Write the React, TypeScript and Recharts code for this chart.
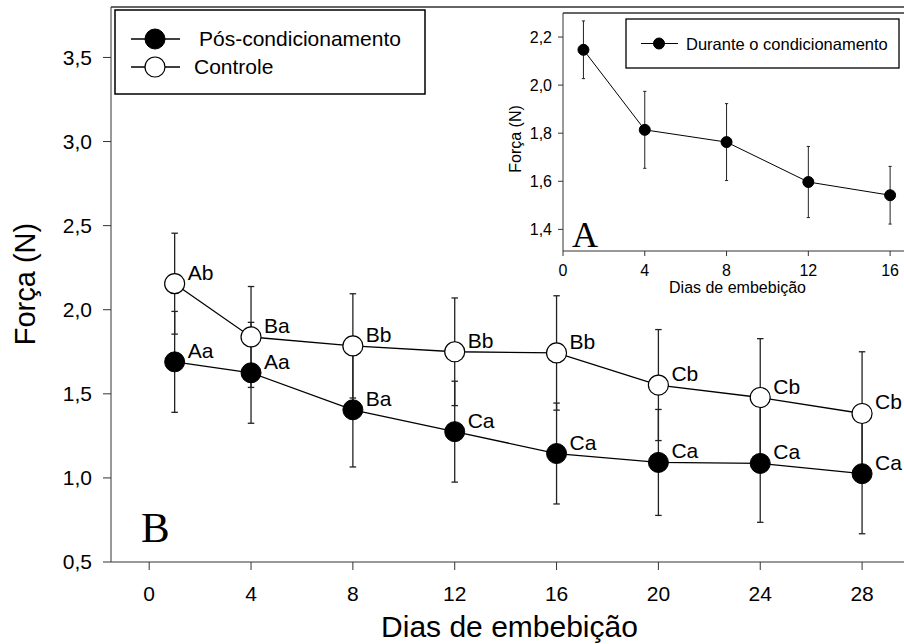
import { ErrorBar, LabelList, Line, LineChart, ReferenceLine, XAxis, YAxis } from "recharts";

const FONT = "'Liberation Sans', Arial, Helvetica, sans-serif";
const SERIF = "'Liberation Serif', 'Times New Roman', serif";
const AXIS = "#333";
const BAR = "#222";

// panel B
const DAYS = [1, 4, 8, 12, 16, 20, 24, 28];
const POS = [1.69, 1.625, 1.405, 1.275, 1.145, 1.092, 1.086, 1.025];
const POS_ERR = [0.3, 0.3, 0.34, 0.3, 0.3, 0.315, 0.35, 0.357];
const POS_LABELS = ["Aa", "Aa", "Ba", "Ca", "Ca", "Ca", "Ca", "Ca"];
const CTRL = [2.155, 1.838, 1.785, 1.75, 1.743, 1.552, 1.478, 1.383];
const CTRL_ERR = [0.3, 0.3, 0.31, 0.32, 0.34, 0.33, 0.35, 0.367];
const CTRL_LABELS = ["Ab", "Ba", "Bb", "Bb", "Bb", "Cb", "Cb", "Cb"];
const X_TICKS = [0, 4, 8, 12, 16, 20, 24, 28];
const Y_TICKS = [0.5, 1.0, 1.5, 2.0, 2.5, 3.0, 3.5];

// panel A (inset)
const INSET_DAYS = [1, 4, 8, 12, 16];
const INSET_VALS = [2.147, 1.814, 1.763, 1.597, 1.542];
const INSET_ERR = [0.12, 0.16, 0.16, 0.148, 0.12];
const INSET_X_TICKS = [0, 4, 8, 12, 16];
const INSET_Y_TICKS = [1.4, 1.6, 1.8, 2.0, 2.2];

const SERIES_NAMES = ["Pós-condicionamento", "Controle"];
const INSET_NAME = "Durante o condicionamento";

const mainData = DAYS.map((d, i) => ({
  day: d,
  pos: POS[i],
  posErr: POS_ERR[i],
  posLabel: POS_LABELS[i],
  ctrl: CTRL[i],
  ctrlErr: CTRL_ERR[i],
  ctrlLabel: CTRL_LABELS[i],
}));

const insetData = INSET_DAYS.map((d, i) => ({ day: d, val: INSET_VALS[i], err: INSET_ERR[i] }));

const comma = (v: number) => v.toFixed(1).replace(".", ",");

const letter = (props: any) => {
  const { x, y, value } = props;
  return (
    <text x={x + 13} y={y - 4} fontSize={21} fontFamily={FONT} fill="#000">
      {value}
    </text>
  );
};

export default function App() {
  return (
    <div style={{ position: "fixed", left: 0, top: 0, width: 904, height: 644, overflow: "hidden", background: "#fff" }}>
      <div style={{ position: "absolute", left: 0, top: 0 }}>
        <LineChart width={913} height={644} data={mainData} margin={{ top: 7, right: 0, bottom: 0, left: 0 }}>
          <XAxis
            dataKey="day"
            type="number"
            domain={[-1.5, 30]}
            ticks={X_TICKS}
            height={82}
            tickSize={8}
            tickMargin={16}
            stroke={AXIS}
            tick={{ fill: "#000", fontSize: 21, fontFamily: FONT }}
            allowDataOverflow
          />
          <YAxis
            type="number"
            domain={[0.5, 3.8]}
            ticks={Y_TICKS}
            width={111}
            tickSize={8}
            tickMargin={11}
            stroke={AXIS}
            tickFormatter={comma}
            tick={{ fill: "#000", fontSize: 21, fontFamily: FONT }}
            allowDataOverflow
          />
          <ReferenceLine y={3.8} stroke={AXIS} strokeWidth={1.5} />
          <Line
            dataKey="pos"
            stroke="#000"
            strokeWidth={1.3}
            dot={{ r: 10, fill: "#000", stroke: "#000", strokeWidth: 1 }}
            activeDot={false}
            isAnimationActive={false}
          >
            <ErrorBar dataKey="posErr" direction="y" width={3.25} stroke={BAR} strokeWidth={1.3} />
            <LabelList dataKey="posLabel" content={letter} />
          </Line>
          <Line
            dataKey="ctrl"
            stroke="#000"
            strokeWidth={1.3}
            dot={{ r: 10, fill: "#fff", stroke: "#000", strokeWidth: 1.2 }}
            activeDot={false}
            isAnimationActive={false}
          >
            <ErrorBar dataKey="ctrlErr" direction="y" width={3.25} stroke={BAR} strokeWidth={1.3} />
            <LabelList dataKey="ctrlLabel" content={letter} />
          </Line>
        </LineChart>
      </div>

      <div style={{ position: "absolute", left: 440, top: 0 }}>
        <LineChart width={491} height={300} data={insetData} margin={{ top: 13, right: 0, bottom: 0, left: 0 }}>
          <XAxis
            dataKey="day"
            type="number"
            domain={[0, 18]}
            ticks={INSET_X_TICKS}
            height={49}
            tickSize={5}
            tickMargin={9}
            stroke={AXIS}
            tick={{ fill: "#000", fontSize: 16, fontFamily: FONT }}
            allowDataOverflow
          />
          <YAxis
            type="number"
            domain={[1.31, 2.3]}
            ticks={INSET_Y_TICKS}
            width={123}
            tickSize={5}
            tickMargin={6}
            stroke={AXIS}
            tickFormatter={comma}
            tick={{ fill: "#000", fontSize: 16, fontFamily: FONT }}
            allowDataOverflow
          />
          <ReferenceLine y={2.3} stroke={AXIS} strokeWidth={1.3} />
          <Line
            dataKey="val"
            stroke="#000"
            strokeWidth={1}
            dot={{ r: 5.5, fill: "#000", stroke: "#000", strokeWidth: 1 }}
            activeDot={false}
            isAnimationActive={false}
          >
            <ErrorBar dataKey="err" direction="y" width={1.6} stroke={BAR} strokeWidth={1} />
          </Line>
        </LineChart>
      </div>

      <svg
        width={904}
        height={644}
        style={{ position: "absolute", left: 0, top: 0, pointerEvents: "none" }}
        fontFamily={FONT}
      >
        {/* legend, panel B */}
        <rect x={115} y={10} width={310} height={84} fill="#fff" stroke="#000" strokeWidth={1.5} />
        <line x1={131} x2={180} y1={39} y2={39} stroke="#000" strokeWidth={1.3} />
        <circle cx={155} cy={39} r={10} fill="#000" stroke="#000" />
        <text x={199} y={46} fontSize={21}>{SERIES_NAMES[0]}</text>
        <line x1={131} x2={180} y1={67} y2={67} stroke="#000" strokeWidth={1.3} />
        <circle cx={155} cy={67} r={10} fill="#fff" stroke="#000" strokeWidth={1.2} />
        <text x={194} y={74} fontSize={21}>{SERIES_NAMES[1]}</text>

        {/* legend, panel A */}
        <rect x={626} y={19} width={273} height={49} fill="#fff" stroke="#000" strokeWidth={1.3} />
        <line x1={641} x2={678} y1={43.5} y2={43.5} stroke="#000" strokeWidth={1} />
        <circle cx={659} cy={43.5} r={5.5} fill="#000" stroke="#000" />
        <text x={686} y={49.5} fontSize={16.5}>{INSET_NAME}</text>

        {/* panel letters */}
        <text x={141} y={542} fontSize={43} fontFamily={SERIF}>B</text>
        <text x={572} y={247} fontSize={36} fontFamily={SERIF}>A</text>

        {/* axis titles */}
        <text x={35} y={284} fontSize={29} textAnchor="middle" transform="rotate(-90 35 284)">Força (N)</text>
        <text x={509.5} y={637} fontSize={30} textAnchor="middle">Dias de embebição</text>
        <text x={521} y={139} fontSize={16} textAnchor="middle" transform="rotate(-90 521 139)">Força (N)</text>
        <text x={737.5} y={293} fontSize={16} textAnchor="middle">Dias de embebição</text>
      </svg>
    </div>
  );
}
